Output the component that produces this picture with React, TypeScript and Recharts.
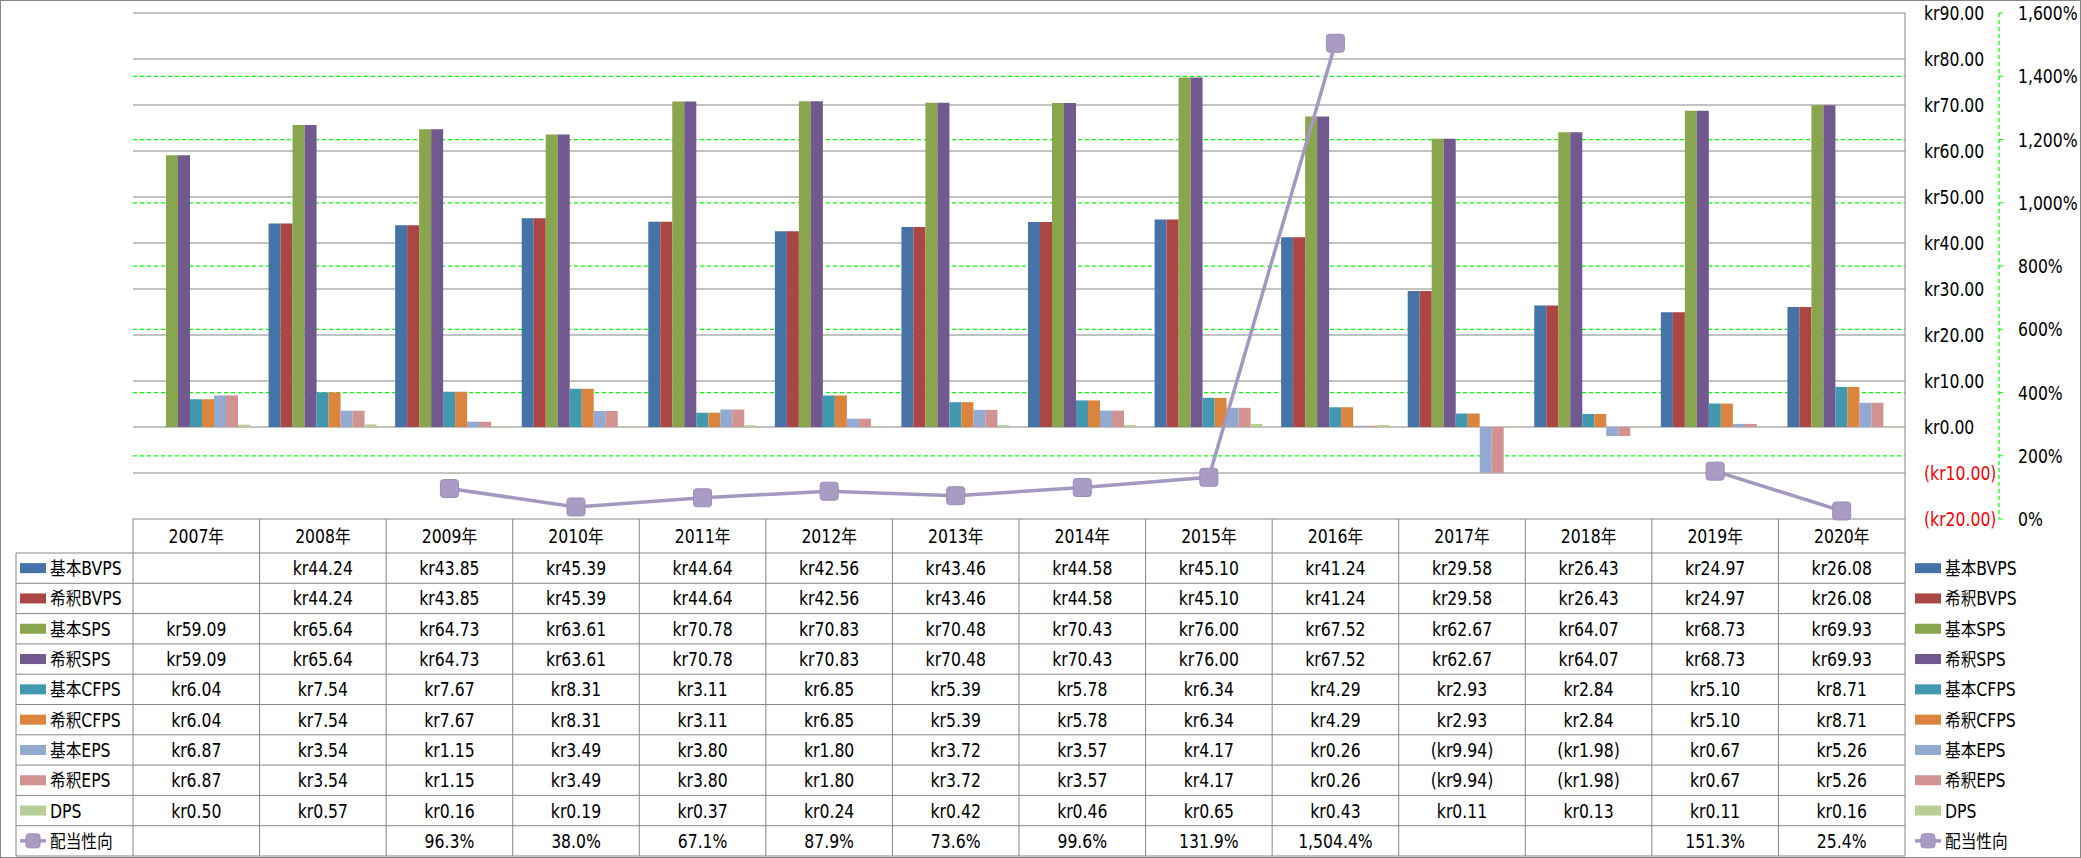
import React from 'react';
import { ComposedChart, Bar, Line, XAxis, YAxis, CartesianGrid } from 'recharts';

const years = ['2007年', '2008年', '2009年', '2010年', '2011年', '2012年', '2013年', '2014年', '2015年', '2016年', '2017年', '2018年', '2019年', '2020年'];
const bvps = [null, 44.24, 43.85, 45.39, 44.64, 42.56, 43.46, 44.58, 45.10, 41.24, 29.58, 26.43, 24.97, 26.08];
const sps = [59.09, 65.64, 64.73, 63.61, 70.78, 70.83, 70.48, 70.43, 76.00, 67.52, 62.67, 64.07, 68.73, 69.93];
const cfps = [6.04, 7.54, 7.67, 8.31, 3.11, 6.85, 5.39, 5.78, 6.34, 4.29, 2.93, 2.84, 5.10, 8.71];
const eps = [6.87, 3.54, 1.15, 3.49, 3.80, 1.80, 3.72, 3.57, 4.17, 0.26, -9.94, -1.98, 0.67, 5.26];
const dps = [0.50, 0.57, 0.16, 0.19, 0.37, 0.24, 0.42, 0.46, 0.65, 0.43, 0.11, 0.13, 0.11, 0.16];
const payout = [null, null, 96.3, 38.0, 67.1, 87.9, 73.6, 99.6, 131.9, 1504.4, null, null, 151.3, 25.4];

const krTicks = [-20, -10, 0, 10, 20, 30, 40, 50, 60, 70, 80, 90];
const pctTicks = [0, 200, 400, 600, 800, 1000, 1200, 1400, 1600];
const pctGrid = [200, 400, 600, 800, 1000, 1200, 1400];

const barSeries = [
  { key: 'bvpsB', name: '基本BVPS', values: bvps, color: '#4572A7' },
  { key: 'bvpsD', name: '希釈BVPS', values: bvps, color: '#AA4643' },
  { key: 'spsB', name: '基本SPS', values: sps, color: '#89A54E' },
  { key: 'spsD', name: '希釈SPS', values: sps, color: '#71588F' },
  { key: 'cfpsB', name: '基本CFPS', values: cfps, color: '#4198AF' },
  { key: 'cfpsD', name: '希釈CFPS', values: cfps, color: '#DB843D' },
  { key: 'epsB', name: '基本EPS', values: eps, color: '#93A9CF' },
  { key: 'epsD', name: '希釈EPS', values: eps, color: '#D19392' },
  { key: 'dps', name: 'DPS', values: dps, color: '#B9CD96' },
];
const LINE_COLOR = '#A598C0';

const data = years.map((year, i) => {
  const row: any = { year, payout: payout[i] };
  barSeries.forEach((s) => { row[s.key] = s.values[i]; });
  return row;
});

// layout
const W = 2081;
const H = 858;
const PLOT_L = 133;
const PLOT_R = 1905;
const PLOT_T = 13;
const PLOT_B = 519;
const HEAD_B = 553;
const ROW_H = 30.3;
const LEG_L = 16;
const BAND = (PLOT_R - PLOT_L) / years.length;
const GRID = '#868686';

const LATIN = "'DejaVu Sans Condensed', 'Liberation Sans Narrow', 'DejaVu Sans', sans-serif";
const CJK = "'Noto Sans CJK JP', sans-serif";
// the source renders text tall and narrow
const SQUEEZE = 0.87;

const fmtKr = (v: number | null) => (v == null ? '' : v < 0 ? `(kr${Math.abs(v).toFixed(2)})` : `kr${v.toFixed(2)}`);
const fmtPct = (v: number | null) =>
  v == null ? '' : `${v.toLocaleString('en-US', { minimumFractionDigits: 1, maximumFractionDigits: 1 })}%`;

const tableRows = [
  ...barSeries.map((s) => ({ name: s.name, text: (i: number) => fmtKr(s.values[i]) })),
  { name: '配当性向', text: (i: number) => fmtPct(payout[i]) },
];

function MixedText({ x, y, text, anchor = 'middle', fill = '#000', size = 20 }: any) {
  const parts = String(text).split(/([\u3000-\u9fff]+)/).filter(Boolean);
  return (
    <text transform={`translate(${x} ${y + 7}) scale(${SQUEEZE} 1)`} x={0} y={0}
      textAnchor={anchor} fill={fill} fontFamily={LATIN} fontSize={size}>
      {parts.map((p, k) =>
        /[\u3000-\u9fff]/.test(p) ? (
          <tspan key={k} fontFamily={CJK} fontSize={18}>{p}</tspan>
        ) : (
          <tspan key={k}>{p}</tspan>
        )
      )}
    </text>
  );
}

function TableColumn(props: any) {
  const { x, payload } = props;
  const i = payload.index ?? props.index;
  const left = x - BAND / 2;
  const right = x + BAND / 2;
  const bottom = HEAD_B + ROW_H * tableRows.length;
  return (
    <g>
      {i === 0 && <line x1={left} x2={left} y1={PLOT_B} y2={bottom} stroke={GRID} />}
      <line x1={right} x2={right} y1={PLOT_B} y2={bottom} stroke={GRID} />
      <MixedText x={x} y={(PLOT_B + HEAD_B) / 2} text={years[i]} />
      {tableRows.map((r, k) => (
        <MixedText key={k} x={x} y={HEAD_B + ROW_H * (k + 0.5)} text={r.text(i)} />
      ))}
    </g>
  );
}

function KrTick({ x, y, payload }: any) {
  const v = payload.value;
  return <MixedText x={x} y={y} text={fmtKr(v)} anchor="start" fill={v < 0 ? '#FF0000' : '#000'} />;
}

function PctTick({ x, y, payload }: any) {
  return <MixedText x={x} y={y} text={`${payload.value.toLocaleString('en-US')}%`} anchor="start" />;
}

function Marker({ cx, cy, size = 18 }: any) {
  if (cx == null || cy == null) return <g />;
  return (
    <rect x={cx - size / 2} y={cy - size / 2} width={size} height={size} rx={3}
      fill="#A99BC4" stroke="#9A8DB8" strokeWidth={1} />
  );
}

function LegendEntry({ x, y, row }: any) {
  const isLine = row === tableRows.length - 1;
  return (
    <g>
      {isLine ? (
        <g>
          <line x1={x} x2={x + 26} y1={y} y2={y} stroke={LINE_COLOR} strokeWidth={3.5} />
          <Marker cx={x + 13} cy={y} size={14} />
        </g>
      ) : (
        <rect x={x} y={y - 5} width={26} height={10} fill={barSeries[row].color} />
      )}
      <MixedText x={x + 30} y={y} text={tableRows[row].name} anchor="start" />
    </g>
  );
}

function Overlay() {
  const bottom = HEAD_B + ROW_H * tableRows.length;
  return (
    <svg width={W} height={H} style={{ position: 'absolute', left: 0, top: 0, pointerEvents: 'none' }}>
      <rect x={0.5} y={0.5} width={W - 1} height={H - 1} fill="none" stroke={GRID} />
      <line x1={LEG_L} x2={LEG_L} y1={HEAD_B} y2={bottom} stroke={GRID} />
      {tableRows.map((_, k) => (
        <line key={k} x1={LEG_L} x2={PLOT_R} y1={HEAD_B + ROW_H * k} y2={HEAD_B + ROW_H * k} stroke={GRID} />
      ))}
      <line x1={LEG_L} x2={PLOT_R} y1={bottom} y2={bottom} stroke={GRID} />
      {tableRows.map((_, k) => (
        <g key={k}>
          <LegendEntry x={20} y={HEAD_B + ROW_H * (k + 0.5)} row={k} />
          <LegendEntry x={1915} y={HEAD_B + ROW_H * (k + 0.5)} row={k} />
        </g>
      ))}
    </svg>
  );
}

export default function App() {
  return (
    <div style={{ position: 'absolute', left: 0, top: 0, width: W, height: H, background: '#fff', fontFamily: LATIN }}>
      <ComposedChart
        width={W}
        height={H}
        data={data}
        margin={{ top: PLOT_T, right: 0, bottom: 0, left: PLOT_L }}
        barCategoryGap={9}
        barGap={0}
      >
        <CartesianGrid yAxisId="pct" vertical={false} horizontalValues={pctGrid} stroke="#00FF00" strokeWidth={1.25} strokeDasharray="4 3" />
        <CartesianGrid yAxisId="kr" vertical={false} stroke={GRID} />
        <XAxis dataKey="year" height={H - PLOT_B} axisLine={false} tickLine={false} interval={0} tick={<TableColumn />} />
        <YAxis yAxisId="kr" orientation="right" width={94} domain={[-20, 90]} ticks={krTicks} interval={0}
          tickSize={0} tickMargin={19} axisLine={{ stroke: GRID }} tick={<KrTick />} />
        <YAxis yAxisId="pct" orientation="right" width={W - PLOT_R - 94} domain={[0, 1600]} ticks={pctTicks} interval={0}
          tickSize={4} tickMargin={15} tickLine={{ stroke: '#00FF00' }}
          axisLine={{ stroke: '#00FF00', strokeDasharray: '4 3', strokeWidth: 1.25 }} tick={<PctTick />} />
        {barSeries.map((s) => (
          <Bar key={s.key} yAxisId="kr" dataKey={s.key} name={s.name} fill={s.color} isAnimationActive={false} />
        ))}
        <Line yAxisId="pct" dataKey="payout" name="配当性向" stroke={LINE_COLOR} strokeWidth={3.5}
          dot={<Marker />} activeDot={false} connectNulls={false} isAnimationActive={false} />
      </ComposedChart>
      <Overlay />
    </div>
  );
}
